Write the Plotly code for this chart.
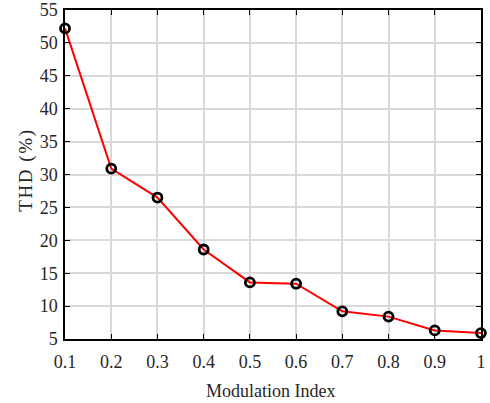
import plotly.graph_objects as go

modulation_index = [0.1, 0.2, 0.3, 0.4, 0.5, 0.6, 0.7, 0.8, 0.9, 1.0]
thd_percent = [52.2, 30.9, 26.5, 18.6, 13.6, 13.4, 9.2, 8.4, 6.3, 5.9]
x_ticks = [0.1, 0.2, 0.3, 0.4, 0.5, 0.6, 0.7, 0.8, 0.9, 1.0]
x_tick_labels = ["0.1", "0.2", "0.3", "0.4", "0.5", "0.6", "0.7", "0.8", "0.9", "1"]
y_ticks = [5, 10, 15, 20, 25, 30, 35, 40, 45, 50, 55]
x_title = "Modulation Index"
y_title = "T\u200aH\u200aD\u200a \u200a(\u200a%\u200a)"

font_family = "Liberation Serif"
text_color = "#262626"

fig = go.Figure()
fig.add_trace(go.Scatter(
    x=modulation_index, y=thd_percent, mode="lines+markers",
    line=dict(color="#ff0000", width=2),
    marker=dict(symbol="circle-open", size=9, color="black", line=dict(width=2.8, color="black")),
    showlegend=False, cliponaxis=False,
))

axis_common = dict(
    showgrid=True, gridcolor="#d9d9d9", gridwidth=2,
    showline=True, linecolor="black", linewidth=1.5, mirror="ticks",
    ticks="inside", ticklen=5, tickcolor="black", tickwidth=1,
    zeroline=False, automargin=False,
    tickfont=dict(family=font_family, size=18, color=text_color),
)

fig.update_xaxes(
    range=[0.0999, 1.0001], tickvals=x_ticks, ticktext=x_tick_labels,
    ticklabelstandoff=6,
    **axis_common,
)
fig.update_yaxes(
    range=[4.999, 55.001], tickvals=y_ticks,
    ticklabelstandoff=2,
    **axis_common,
)

fig.add_annotation(
    text=x_title, xref="paper", yref="paper", x=0.495, y=-0.157,
    xanchor="center", yanchor="middle", showarrow=False,
    font=dict(family=font_family, size=18, color=text_color),
)
fig.add_annotation(
    text=y_title, xref="paper", yref="paper", x=-0.094, y=0.511,
    xanchor="center", yanchor="middle", showarrow=False, textangle=-90,
    font=dict(family=font_family, size=19, color=text_color),
)

fig.update_layout(
    width=490, height=403,
    margin=dict(l=65, r=9, t=10, b=64),
    plot_bgcolor="white", paper_bgcolor="white",
)

fig.write_html("out.html", config={"displayModeBar": False},
               post_script="document.body.style.margin='0';")
